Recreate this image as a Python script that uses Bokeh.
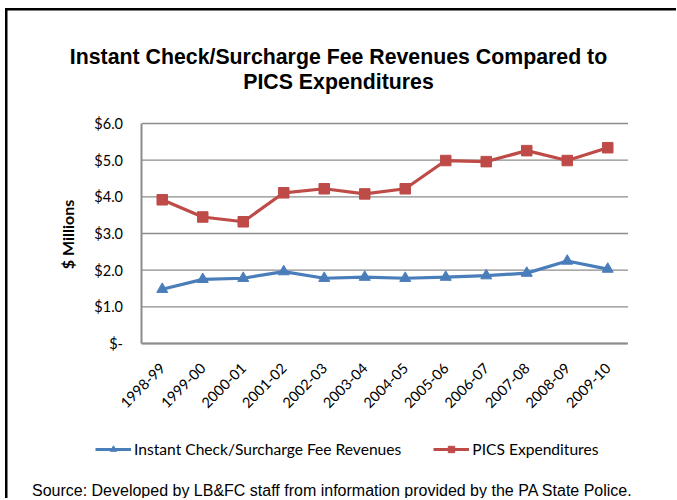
import math
from bokeh.plotting import figure
from bokeh.models import (Range1d, FixedTicker, Legend, LegendItem, ColumnDataSource, Label)
from bokeh.embed import file_html
from bokeh.resources import INLINE

# ---- data ----
years = ["1998-99", "1999-00", "2000-01", "2001-02", "2002-03", "2003-04",
         "2004-05", "2005-06", "2006-07", "2007-08", "2008-09", "2009-10"]
fee_revenues = [1.48, 1.75, 1.78, 1.96, 1.78, 1.81, 1.78, 1.81, 1.85, 1.92, 2.25, 2.03]
pics_expenditures = [3.92, 3.45, 3.32, 4.11, 4.22, 4.08, 4.22, 4.99, 4.96, 5.26, 4.99, 5.34]
y_ticks = [0, 1, 2, 3, 4, 5, 6]
y_tick_labels = ["$-", "$1.0", "$2.0", "$3.0", "$4.0", "$5.0", "$6.0"]
series_names = ["Instant Check/Surcharge Fee Revenues", "PICS Expenditures"]
title_lines = ["Instant Check/Surcharge Fee Revenues Compared to", "PICS Expenditures"]
y_title = "$ Millions"
source_note = "Source:  Developed by LB&FC staff from information provided by the PA State Police."

BLUE = "#4A7EBB"
RED = "#BE4B48"
GRID = "#8C8C8C"
LFONT = "Lato"
AFONT = "Liberation Sans"

W, H = 676, 498
idx = list(range(len(years)))
x_lo, x_hi = -0.5, len(years) - 0.5          # category band edges

# the frame fills the whole canvas; the plot area sits inside it
p = figure(x_range=Range1d(-3.9938, -3.9938 + W / 40.5),
           y_range=Range1d(-(H - 343) / 36.667, 6 + 123 / 36.667),
           frame_width=W, frame_height=H,
           min_border_left=0, min_border_right=0, min_border_top=0, min_border_bottom=0,
           output_backend="svg", toolbar_location=None,
           background_fill_color=None, border_fill_color=None)
p.outline_line_color = None
p.title.visible = False
p.styles = {
    "background": "linear-gradient(#000,#000) 5px 8px / 2.5px 600px no-repeat, "
                  "linear-gradient(#000,#000) 5px 8px / 700px 2.5px no-repeat, #fff"
}
p.xgrid.visible = False
p.ygrid.visible = False

# horizontal gridlines across the category band
p.segment(x0=[x_lo] * len(y_ticks), x1=[x_hi] * len(y_ticks), y0=y_ticks, y1=y_ticks,
          line_color=GRID, line_width=1.3)

src = ColumnDataSource(dict(x=idx, fee=fee_revenues, pics=pics_expenditures))
r_bl = p.line("x", "fee", source=src, line_color=BLUE, line_width=3.2)
r_bm = p.scatter("x", "fee", source=src, marker="triangle", size=11, fill_color=BLUE, line_color=BLUE)
r_rl = p.line("x", "pics", source=src, line_color=RED, line_width=3.2)
r_rm = p.scatter("x", "pics", source=src, marker="square", size=10.5, fill_color=RED, line_color=RED)

# ---- y axis ----
p.yaxis.fixed_location = x_lo
p.yaxis.bounds = (y_ticks[0], y_ticks[-1])
p.yaxis.ticker = FixedTicker(ticks=y_ticks)
p.yaxis.major_label_overrides = {t: l for t, l in zip(y_ticks, y_tick_labels)}
p.yaxis.major_label_text_font = LFONT
p.yaxis.major_label_text_font_size = "14.5px"
p.yaxis.major_label_text_color = "black"
p.yaxis.major_tick_line_color = None
p.yaxis.major_tick_out = 0
p.yaxis.major_tick_in = 0
p.yaxis.minor_tick_line_color = None
p.yaxis.major_label_standoff = 19
p.yaxis.axis_line_color = GRID
p.yaxis.axis_line_width = 2

# ---- x axis ----
p.xaxis.fixed_location = 0
p.xaxis.bounds = (x_lo, x_hi)
p.xaxis.ticker = FixedTicker(ticks=idx)
p.xaxis.major_label_overrides = {i: y for i, y in zip(idx, years)}
p.xaxis.major_label_orientation = math.pi / 4
p.xaxis.major_label_text_font = LFONT
p.xaxis.major_label_text_font_size = "14.5px"
p.xaxis.major_label_text_color = "black"
p.xaxis.major_tick_line_color = None
p.xaxis.major_tick_out = 0
p.xaxis.major_tick_in = 0
p.xaxis.minor_tick_line_color = None
p.xaxis.axis_line_color = GRID
p.xaxis.axis_line_width = 2
p.xaxis.major_label_standoff = 22

# ---- texts (screen units: x from the left, y up from the bottom of the canvas) ----
p.add_layout(Label(x=66.5, y=H - 234, x_units="screen", y_units="screen", text=y_title,
                   angle=math.pi / 2, text_align="center", text_baseline="middle",
                   text_font=LFONT, text_font_style="bold", text_font_size="16px",
                   text_color="black"))

for t, base in zip(title_lines, [56, 81]):
    p.add_layout(Label(x=338, y=H - base, x_units="screen", y_units="screen", text=t,
                       text_align="center", text_baseline="alphabetic",
                       text_font=AFONT, text_font_style="bold", text_font_size="21.3px",
                       text_color="black"))

p.add_layout(Label(x=334, y=H - 490, x_units="screen", y_units="screen", text=source_note,
                   text_align="center", text_baseline="alphabetic",
                   text_font=AFONT, text_font_size="16px", text_color="black"))

legend = Legend(items=[LegendItem(label=series_names[0], renderers=[r_bl, r_bm]),
                       LegendItem(label=series_names[1], renderers=[r_rl, r_rm])],
                orientation="horizontal", location=(95, H - 439 - 19),
                padding=0, margin=0, spacing=32, label_standoff=3,
                glyph_width=36, glyph_height=16,
                label_text_font=LFONT, label_text_font_size="15.6px",
                label_text_color="black",
                border_line_color=None, background_fill_alpha=0)
p.add_layout(legend, "center")

open("out.html", "w").write(file_html(p, INLINE))
